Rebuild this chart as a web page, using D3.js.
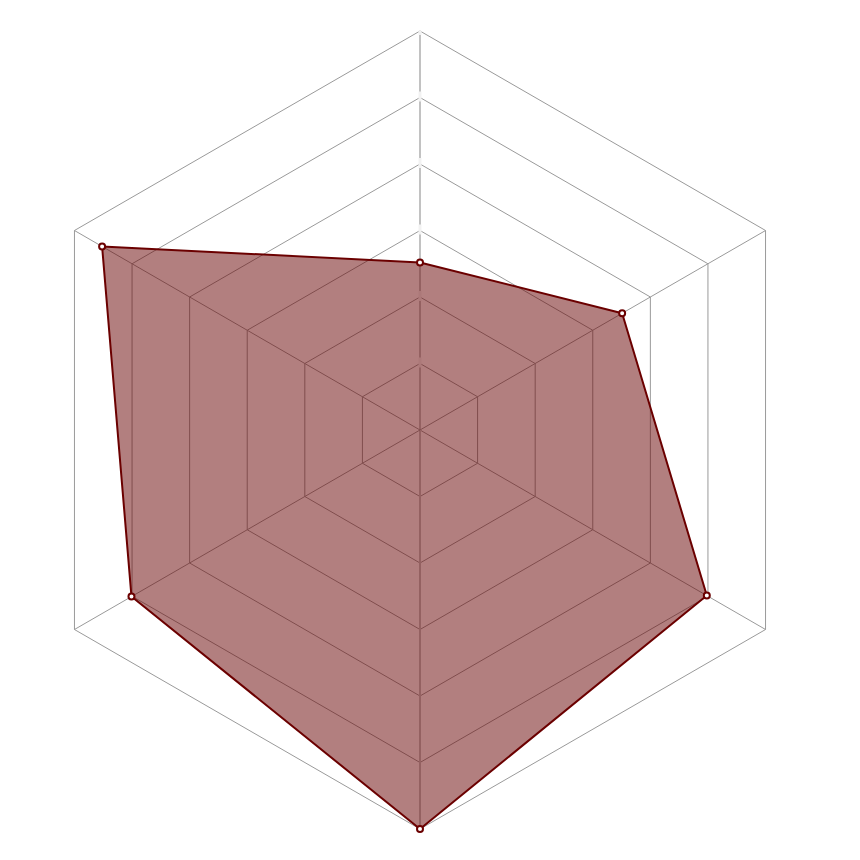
<!DOCTYPE html>
<html>
<head>
<meta charset="utf-8">
<script src="https://cdn.jsdelivr.net/npm/d3@7/dist/d3.min.js"></script>
<style>
  html, body { margin: 0; padding: 0; background: #fff; }
  svg { display: block; }
</style>
</head>
<body>
<div class="chart"></div>
<script>
// six axes, clockwise from the top
const axes   = ['A', 'B', 'C', 'D', 'E', 'F']
const values = [42, 58.5, 83, 100, 83.5, 92]
const levels = [1, 2, 3, 4, 5, 6]
const maxValue = 100

const width = 860, height = 860
const cx = 420, cy = 430, radius = 399

const r = d3.scaleLinear().domain([0, maxValue]).range([0, radius])
const lvl = d3.scaleLinear().domain([0, levels.length]).range([0, radius])
const angle = i => i * 2 * Math.PI / axes.length

const pt = (i, rr) => [Math.sin(angle(i)) * rr, -Math.cos(angle(i)) * rr]

const svg = d3.select('.chart')
  .append('svg')
    .attr('width', width)
    .attr('height', height)
  .append('g')
    .attr('transform', `translate(${cx},${cy})`)

// grid hexagons
const lineClosed = d3.line().curve(d3.curveLinearClosed)
svg.selectAll('.grid')
  .data(levels)
  .enter()
  .append('path')
    .attr('class', 'grid')
    .attr('d', l => lineClosed(axes.map((a, i) => pt(i, lvl(l)))))
    .attr('fill', 'none')
    .attr('stroke', '#9a9a9a')
    .attr('stroke-width', 1)

// spokes
svg.selectAll('.spoke')
  .data(axes)
  .enter()
  .append('line')
    .attr('class', 'spoke')
    .attr('x1', 0).attr('y1', 0)
    .attr('x2', (a, i) => pt(i, radius)[0])
    .attr('y2', (a, i) => pt(i, radius)[1])
    .attr('stroke', (a, i) => i === 0 || i === 3 ? '#c2c2c2' : '#9a9a9a')
    .attr('stroke-width', (a, i) => i === 0 || i === 3 ? 2 : 1)

// small gaps on the vertical axis around each level
svg.selectAll('.gap')
  .data(levels)
  .enter()
  .append('line')
    .attr('class', 'gap')
    .attr('x1', 0).attr('x2', 0)
    .attr('y1', l => -lvl(l) + 4)
    .attr('y2', l => Math.max(-lvl(l) - 6, -radius))
    .attr('stroke', '#f2f2f2')
    .attr('stroke-width', 3)

// data polygon
const dataPts = values.map((v, i) => pt(i, r(v)))
svg.append('path')
  .attr('d', lineClosed(dataPts))
  .attr('fill', '#660000')
  .attr('fill-opacity', 0.5)
  .attr('stroke', '#6b0000')
  .attr('stroke-width', 2)
  .attr('stroke-linejoin', 'round')

svg.selectAll('.dot')
  .data(dataPts)
  .enter()
  .append('circle')
    .attr('class', 'dot')
    .attr('cx', d => d[0])
    .attr('cy', d => d[1])
    .attr('r', 3)
    .attr('fill', '#fff')
    .attr('stroke', '#6b0000')
    .attr('stroke-width', 2)
</script>
</body>
</html>
